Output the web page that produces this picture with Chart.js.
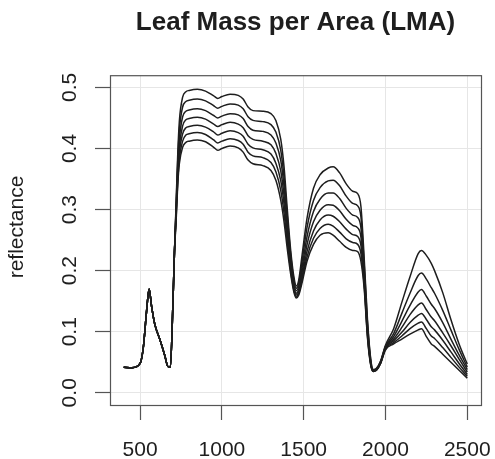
<!DOCTYPE html>
<html>
<head>
<meta charset="utf-8">
<script src="https://cdn.jsdelivr.net/npm/chart.js@4.4.1/dist/chart.umd.min.js"></script>
<style>
  html, body { margin: 0; padding: 0; background: #fff; }
  #wrap { width: 495px; height: 459px; }
</style>
</head>
<body>
<div id="wrap"><canvas id="lma"></canvas></div>
<script>
// wavelengths (nm)
const wavelengths = [400, 450, 500, 520, 540, 555, 570, 590, 620, 650,
    670, 685, 700, 710, 720, 730, 740, 760, 780, 800,
    850, 900, 950, 975, 1000, 1050, 1100, 1130, 1160, 1190,
    1250, 1300, 1330, 1360, 1380, 1400, 1420, 1440, 1455, 1470,
    1490, 1520, 1560, 1600, 1650, 1680, 1720, 1760, 1800, 1830,
    1850, 1870, 1890, 1910, 1925, 1945, 1970, 2000, 2050, 2100,
    2150, 2200, 2220, 2250, 2280, 2300, 2350, 2400, 2450, 2500];

// visible part, same for every curve (400-710 nm)
const visible = [0.042, 0.041, 0.048, 0.075, 0.135, 0.170, 0.142, 0.112, 0.088, 0.062,
    0.043, 0.042, 0.140, 0.230];

// reflectance from 720 nm on, one array per LMA value
const refl1 = [0.310, 0.390, 0.445, 0.484, 0.493, 0.495,
    0.497, 0.494, 0.486, 0.482, 0.485, 0.489, 0.487, 0.481, 0.468, 0.462,
    0.461, 0.457, 0.446, 0.415, 0.370, 0.300, 0.235, 0.190, 0.175, 0.185,
    0.225, 0.285, 0.335, 0.357, 0.368, 0.370, 0.360, 0.342, 0.330, 0.326,
    0.305, 0.220, 0.120, 0.055, 0.038, 0.040, 0.052, 0.078, 0.105, 0.148,
    0.190, 0.228, 0.233, 0.225, 0.212, 0.200, 0.164, 0.120, 0.080, 0.047];
const refl2 = [0.305, 0.380, 0.430, 0.468, 0.477, 0.479,
    0.481, 0.478, 0.470, 0.466, 0.469, 0.473, 0.471, 0.465, 0.452, 0.446,
    0.444, 0.439, 0.427, 0.397, 0.353, 0.289, 0.228, 0.185, 0.171, 0.180,
    0.215, 0.270, 0.315, 0.336, 0.347, 0.348, 0.339, 0.322, 0.310, 0.306,
    0.288, 0.210, 0.115, 0.053, 0.037, 0.039, 0.051, 0.076, 0.097, 0.130,
    0.163, 0.192, 0.196, 0.186, 0.172, 0.163, 0.135, 0.103, 0.071, 0.042];
const refl3 = [0.300, 0.370, 0.415, 0.452, 0.461, 0.463,
    0.465, 0.462, 0.454, 0.450, 0.453, 0.457, 0.455, 0.449, 0.436, 0.430,
    0.428, 0.422, 0.409, 0.380, 0.338, 0.279, 0.221, 0.180, 0.167, 0.175,
    0.205, 0.255, 0.297, 0.317, 0.327, 0.327, 0.318, 0.302, 0.291, 0.287,
    0.270, 0.200, 0.108, 0.050, 0.036, 0.038, 0.050, 0.075, 0.092, 0.117,
    0.143, 0.165, 0.169, 0.158, 0.145, 0.138, 0.115, 0.088, 0.062, 0.038];
const refl4 = [0.295, 0.360, 0.403, 0.437, 0.447, 0.449,
    0.451, 0.448, 0.440, 0.436, 0.439, 0.443, 0.440, 0.434, 0.421, 0.415,
    0.412, 0.406, 0.392, 0.363, 0.323, 0.268, 0.214, 0.175, 0.163, 0.170,
    0.197, 0.242, 0.280, 0.299, 0.308, 0.307, 0.298, 0.284, 0.274, 0.270,
    0.255, 0.190, 0.102, 0.048, 0.036, 0.038, 0.049, 0.074, 0.088, 0.107,
    0.128, 0.144, 0.147, 0.136, 0.124, 0.118, 0.098, 0.077, 0.055, 0.034];
const refl5 = [0.290, 0.352, 0.393, 0.424, 0.434, 0.436,
    0.438, 0.435, 0.427, 0.422, 0.425, 0.429, 0.426, 0.420, 0.407, 0.401,
    0.398, 0.391, 0.376, 0.347, 0.309, 0.257, 0.207, 0.171, 0.160, 0.166,
    0.190, 0.231, 0.265, 0.283, 0.291, 0.289, 0.280, 0.268, 0.259, 0.256,
    0.241, 0.182, 0.097, 0.047, 0.036, 0.038, 0.049, 0.073, 0.085, 0.099,
    0.115, 0.127, 0.130, 0.120, 0.108, 0.103, 0.086, 0.067, 0.048, 0.030];
const refl6 = [0.285, 0.345, 0.383, 0.412, 0.422, 0.424,
    0.426, 0.423, 0.414, 0.409, 0.412, 0.416, 0.413, 0.407, 0.394, 0.388,
    0.385, 0.377, 0.362, 0.331, 0.294, 0.246, 0.201, 0.168, 0.157, 0.163,
    0.185, 0.222, 0.253, 0.269, 0.276, 0.273, 0.263, 0.252, 0.246, 0.243,
    0.228, 0.176, 0.093, 0.046, 0.035, 0.037, 0.048, 0.072, 0.082, 0.093,
    0.105, 0.114, 0.116, 0.105, 0.093, 0.089, 0.074, 0.058, 0.042, 0.027];
const refl7 = [0.280, 0.340, 0.375, 0.402, 0.410, 0.412,
    0.414, 0.411, 0.402, 0.397, 0.400, 0.404, 0.401, 0.394, 0.381, 0.375,
    0.372, 0.364, 0.348, 0.315, 0.280, 0.235, 0.195, 0.165, 0.155, 0.160,
    0.180, 0.215, 0.243, 0.258, 0.262, 0.258, 0.248, 0.238, 0.233, 0.231,
    0.215, 0.170, 0.090, 0.045, 0.035, 0.037, 0.048, 0.070, 0.080, 0.088,
    0.096, 0.103, 0.105, 0.092, 0.080, 0.076, 0.063, 0.050, 0.037, 0.024];

const xTicks = [500, 1000, 1500, 2000, 2500];
const yTicks = [0.0, 0.1, 0.2, 0.3, 0.4, 0.5];

const FONT = '"Liberation Sans", Arial, Helvetica, sans-serif';
const INK = '#1e1e1e';

const series = [refl1, refl2, refl3, refl4, refl5, refl6, refl7];

const datasets = series.map(s => ({
    data: visible.concat(s).map((v, i) => ({ x: wavelengths[i], y: v })),
    borderColor: INK,
    borderWidth: 1.5,
    pointRadius: 0,
    fill: false,
    cubicInterpolationMode: 'monotone'
}));

// box around the plot region and the rotated y label, R style
const frame = {
    id: 'frame',
    afterDatasetsDraw(chart) {
        const { ctx, chartArea: a } = chart;
        ctx.save();
        ctx.strokeStyle = '#555';
        ctx.lineWidth = 1.2;
        ctx.strokeRect(a.left + 0.5, a.top + 0.5, a.right - a.left, a.bottom - a.top);
        ctx.translate(17, 227);
        ctx.rotate(-Math.PI / 2);
        ctx.font = '21px ' + FONT;
        ctx.fillStyle = INK;
        ctx.textAlign = 'center';
        ctx.textBaseline = 'middle';
        ctx.fillText('reflectance', 0, 0);
        ctx.restore();
    }
};

new Chart(document.getElementById('lma'), {
    type: 'line',
    data: { datasets },
    plugins: [frame],
    options: {
        responsive: true,
        maintainAspectRatio: false,
        animation: false,
        layout: { padding: { left: 0, right: 14, top: 0, bottom: 0 } },
        plugins: {
            legend: { display: false },
            tooltip: { enabled: false },
            title: {
                display: true,
                text: 'Leaf Mass per Area (LMA)',
                fullSize: false,
                color: INK,
                font: { family: FONT, size: 26, weight: 'bold' },
                padding: { top: 7, bottom: 37 }
            }
        },
        scales: {
            x: {
                type: 'linear',
                min: 316,
                max: 2584,
                afterBuildTicks: scale => { scale.ticks = xTicks.map(v => ({ value: v })); },
                afterFit: scale => {
                    scale.height = 54;
                    scale.paddingLeft = 0;
                    scale.paddingRight = 0;
                },
                border: { display: false },
                grid: { color: '#e6e6e6', tickColor: '#555', tickLength: 15, tickWidth: 1.2 },
                ticks: {
                    color: INK,
                    padding: 18,
                    maxRotation: 0,
                    font: { family: FONT, size: 21 },
                    callback: v => String(v)
                }
            },
            y: {
                type: 'linear',
                min: -0.02,
                max: 0.52,
                afterBuildTicks: scale => { scale.ticks = yTicks.map(v => ({ value: v })); },
                afterFit: scale => {
                    scale.width = 110;
                    scale.paddingTop = 0;
                    scale.paddingBottom = 0;
                },
                border: { display: false },
                grid: { color: '#e6e6e6', tickColor: '#555', tickLength: 15, tickWidth: 1.2 },
                ticks: {
                    color: INK,
                    padding: 10,
                    minRotation: 90,
                    maxRotation: 90,
                    crossAlign: 'center',
                    font: { family: FONT, size: 21 },
                    callback: v => v.toFixed(1)
                }
            }
        }
    }
});
</script>
</body>
</html>
